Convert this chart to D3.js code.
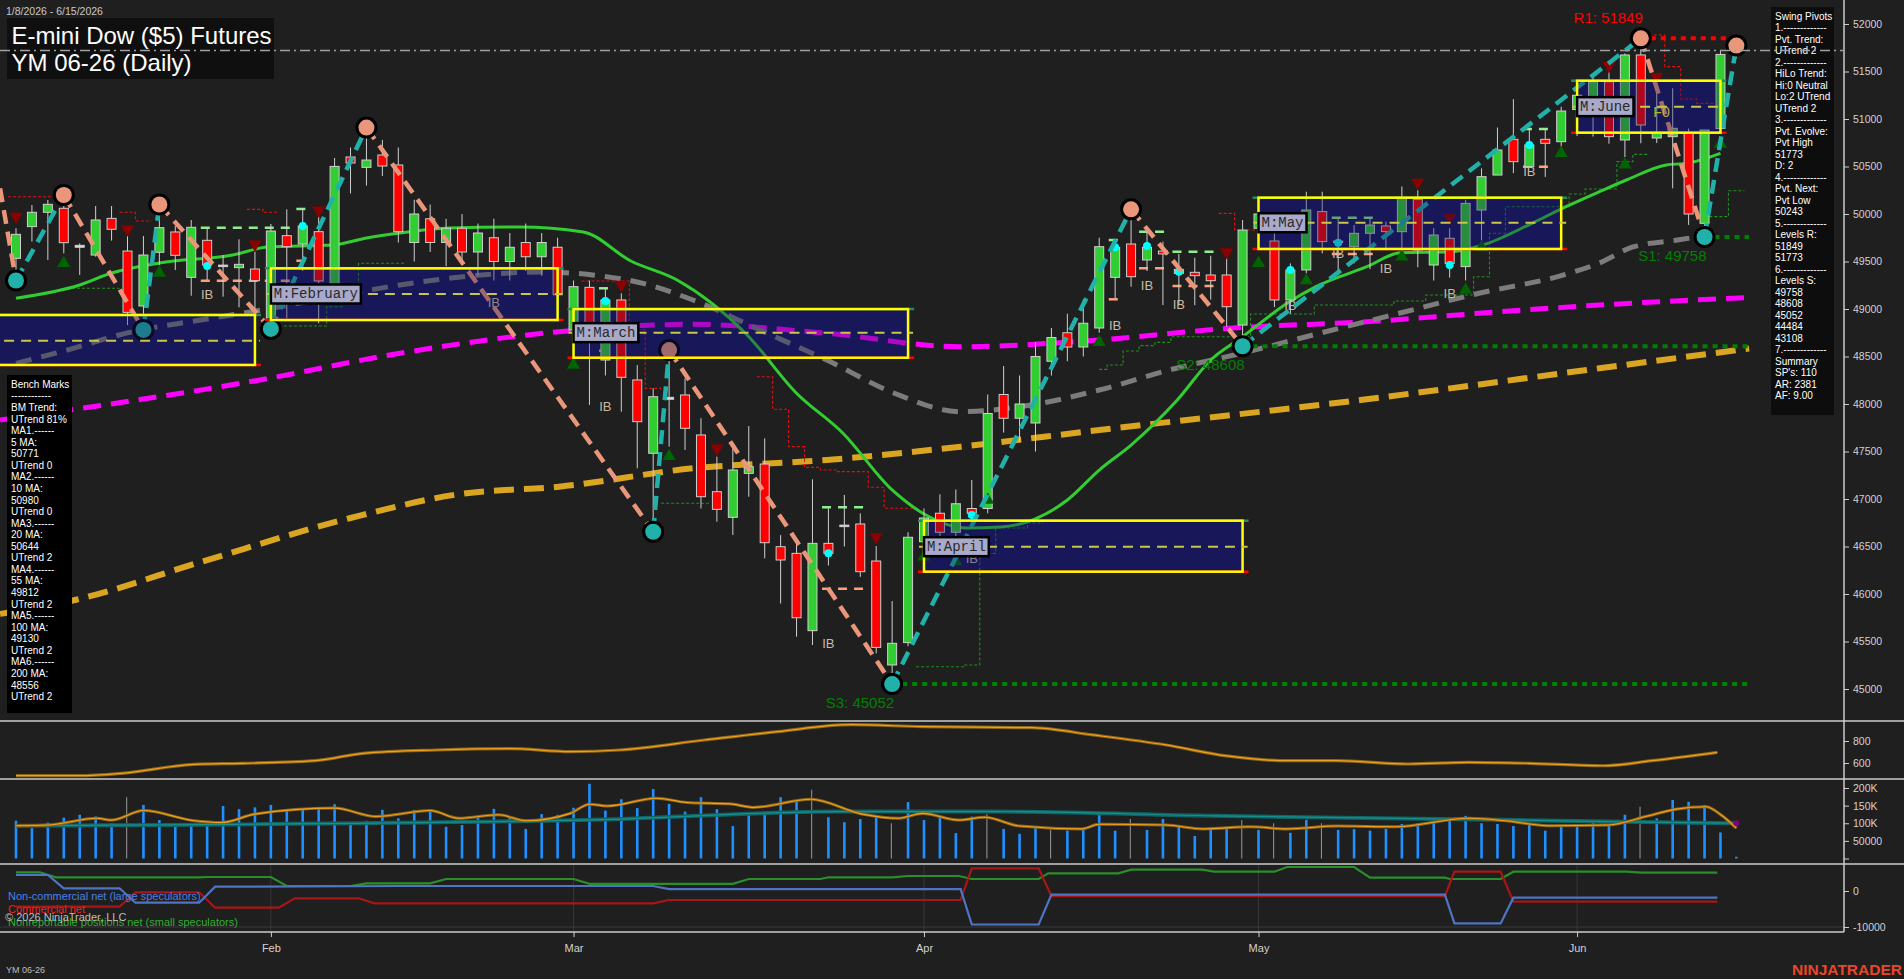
<!DOCTYPE html>
<html><head><meta charset="utf-8"><title>YM 06-26 Daily</title>
<script src="https://cdn.jsdelivr.net/npm/d3@7/dist/d3.min.js"></script>
<style>
html,body{margin:0;padding:0;background:#1f1f1f;overflow:hidden;}
svg{display:block;}
</style></head><body>
<svg id="chart" width="1904" height="979"></svg>
<script>
// ================= DATA =================
const dates = [
"2026-01-08","2026-01-09","2026-01-12","2026-01-13","2026-01-14","2026-01-15","2026-01-16","2026-01-20","2026-01-21","2026-01-22",
"2026-01-23","2026-01-26","2026-01-27","2026-01-28","2026-01-29","2026-01-30","2026-02-02","2026-02-03","2026-02-04","2026-02-05",
"2026-02-06","2026-02-09","2026-02-10","2026-02-11","2026-02-12","2026-02-13","2026-02-17","2026-02-18","2026-02-19","2026-02-20",
"2026-02-23","2026-02-24","2026-02-25","2026-02-26","2026-02-27","2026-03-02","2026-03-03","2026-03-04","2026-03-05","2026-03-06",
"2026-03-09","2026-03-10","2026-03-11","2026-03-12","2026-03-13","2026-03-16","2026-03-17","2026-03-18","2026-03-19","2026-03-20",
"2026-03-23","2026-03-24","2026-03-25","2026-03-26","2026-03-27","2026-03-30","2026-03-31","2026-04-01","2026-04-02","2026-04-06",
"2026-04-07","2026-04-08","2026-04-09","2026-04-10","2026-04-13","2026-04-14","2026-04-15","2026-04-16","2026-04-17","2026-04-20",
"2026-04-21","2026-04-22","2026-04-23","2026-04-24","2026-04-27","2026-04-28","2026-04-29","2026-04-30","2026-05-01","2026-05-04",
"2026-05-05","2026-05-06","2026-05-07","2026-05-08","2026-05-11","2026-05-12","2026-05-13","2026-05-14","2026-05-15","2026-05-18",
"2026-05-19","2026-05-20","2026-05-21","2026-05-22","2026-05-26","2026-05-27","2026-05-28","2026-05-29","2026-06-01","2026-06-02",
"2026-06-03","2026-06-04","2026-06-05","2026-06-08","2026-06-09","2026-06-10","2026-06-11","2026-06-12","2026-06-15"];

const open = [49533,49867,50018,50060,49670,49568,49954,49610,49032,49597, 49811,49333,49723,49450,49435,49421,48902,49772,49684,49814,
 49249,50600,50491,50621,50516,49700,49950,49700,49850,49600, 49750,49500,49700,49550,49650,48779,49228,48463,49095,48253,
 47481,48070,48095,47674,47077,46807,47270,47368,46498,46428, 45614,46533,46710,46737,46347,45253,45488,46550,46850,46650,
 46900,46900,48100,47850,47800,48450,48750,48600,48800,49333, 49684,49516,49610,49375,49386,49358,49358,48831,49850,49716,
 49095,49411,50025,49700,49656,49797,49874,49814,50154,49463, 49744,49446,50042,50410,50786,50498,50786,50761,51100,51077,
 51393,50779,51674,50800,50814,50849,49902,50900,51680];
const high = [49850,50095,50147,50200,49691,50084,50084,49768,49768,50100, 49874,49937,49849,49568,49733,49603,49895,50049,50060,49972,
 50590,50700,50910,50780,50700,50150,50100,49950,50000,49900, 49950,49800,49900,49800,49750,49300,49300,49218,49165,48410,
 48165,48568,48270,47850,47445,47533,47768,47638,46620,46530, 47207,46902,47042,46849,46505,45926,46650,46900,47050,47100,
 47200,48100,48400,48300,48650,48800,48950,49100,49750,49726, 50049,49814,49709,49580,49540,49560,49568,49937,50100,49800,
 49480,50235,50235,49955,49884,49950,49920,50290,50250,49850, 49850,50150,50480,50910,51210,50900,50900,51130,51410,51480,
 51500,51690,51849,51326,51323,50900,50884,51720,51773];
const low = [49300,49709,49516,49586,49358,49551,49720,48830,48780,49463, 49410,49140,49305,49130,49017,48954,48790,48902,49400,48850,
 49055,50217,50300,50400,49700,49500,49600,49450,49500,49350, 49300,49300,49400,49350,48950,48700,47990,48300,47919,47323,
 46655,47551,47516,46900,46761,46621,47024,46375,45900,45550, 45463,46300,46500,46180,45375,45052,45450,46300,46400,46450,
 46700,46850,47700,47600,47500,48300,48450,48500,48750,49112, 49235,49400,49042,49040,49040,49100,48814,48608,49700,49020,
 48950,49375,49586,49375,49480,49420,49640,49600,49440,49300, 49330,49300,49690,50410,50430,50498,50390,50710,50820,50815,
 50740,50600,50745,50747,50270,49885,49758,50850,51640];
const close = [49786,50018,50102,49698,49650,49937,49839,48965,49568,49856, 49565,49860,49463,49462,49470,49298,49821,49656,49874,49295,
 50501,50537,50568,50505,49814,50000,49700,49850,49600,49800, 49500,49650,49550,49700,49150,49235,48779,49095,48281,47814,
 48077,48050,47744,47024,46891,47305,47340,46540,46358,45750, 46533,46428,46725,46235,45438,45481,46597,46800,46650,46950,
 46850,47900,47850,48000,48500,48700,48600,48850,49656,49649, 49340,49649,49580,49417,49351,49298,49024,49831,50000,49095,
 49410,50042,49709,49715,49797,49884,49814,50165,49621,49779, 49480,50112,50393,50674,50551,50727,50744,51084,51250,51393,
 50814,51674,50937,50853,50902,50000,50884,51680,51720];

const volumeK = [107,86,102,116,124,119,100,174,152,109, 95,100,95,149,140,145,152,140,143,144,
 154,100,107,138,114,138,140,90,95,121, 141,119,84,126,124,144,212,136,168,143,
 197,155,133,174,140,92,126,130,174,166, 195,117,103,112,117,100,160,109,121,72,
 119,126,84,70,86,81,79,81,130,79, 112,81,112,92,64,84,84,109,81,100,
 73,109,100,81,83,79,84,98,100,116, 117,121,100,98,92,95,79,90,95,100,
 98,124,147,114,166,161,152,74,5];
const grayVolIdx = [7,50,55,61,65,70,77,79,82,102];

const ma20 = [[0,49113],[4,49253],[6,49379],[9,49484],[13.6,49568],[15.8,49653],[19.9,49674],[22,49747],[24.1,49800],[27.2,49853],
 [31.6,49863],[35.6,49811],[38.6,49505],[41.5,49305],[45.9,48726],[49,48113],[51.9,47695],[55,47095],[56.9,46853],[59.7,46695],
 [61.8,46705],[66,46989],[68,47305],[70,47568],[72.9,48042],[75,48463],[77,48708],[79.8,49060],[81.6,49235],[84.8,49445],
 [86.9,49593],[90,49603],[92.1,49674],[95.2,49905],[97.3,50077],[99.4,50235],[101.1,50358],[103.6,50516],[104.9,50534],[107,50639]];
const ma55 = [[0,48428],[3.2,48568],[7.3,48761],[11.6,48884],[15.8,49000],[19.9,49129],[24.1,49253],[28.5,49347],[32.9,49389],[38.4,49305],
 [42.5,49095],[46.7,48779],[50.9,48463],[55.1,48116],[59.3,47919],[63.7,47989],[68,48147],[72.4,48358],[77,48537],[81.9,48747],
 [86.9,48958],[91.9,49168],[96.9,49347],[99.4,49484],[101.5,49653],[104.3,49726],[107,49800]];
const ma100 = [[-1,47832],[15.3,48253],[24.1,48534],[34.1,48761],[42.5,48839],[50.9,48744],[59.3,48603],[68,48674],[76.4,48800],
 [84.8,48866],[93.2,48972],[99.4,49042],[108.8,49121]];
const ma200 = [[-1,45790],[3.7,45937],[11.6,46337],[21,46800],[27.9,47053],[34.1,47130],[42.5,47323],[50.9,47411],[59.3,47551],
 [68,47726],[84.4,48042],[99.4,48376],[108.8,48584]];

const redSteps = [
 [[-0.5,50182],[2.5,50182]],
 [[6.5,50018],[7.5,49926],[8.5,49926]],
 [[14.5,50049],[15.5,50018],[16.5,50018]],
 [[35.5,49295],[38.5,48779],[39.5,48165],[40.5,48165]],
 [[46.5,48287],[47.5,47944],[48.5,47551],[49.5,47333],[50.5,47305],[51.5,47288],[53.5,47123],[54.5,46902],[56.6,46902]],
 [[75.5,50007],[76.5,49832],[77.9,49832]],
 [[102.5,51884],[103.5,51551],[104.5,51211],[105.5,51165],[106.6,51165]]];
const greenSteps = [
 [[3.2,49218],[6.5,49218]],
 [[16.5,48821],[19.5,49024],[20.5,49253],[21.5,49481],[24.5,49481]],
 [[40.5,46955],[43.5,46955]],
 [[56.5,45235],[59.5,45253],[60.5,46428],[61.5,46695],[63.5,46747],[64.5,46747]],
 [[68,48365],[68.5,48411],[69.5,48558],[70.5,48614],[71.5,48649],[72.5,48708],[77.5,48947],[81.5,49042],[86.5,49084],[88.5,49147],
  [91.5,49340],[92.5,49797],[93.5,50077],[97.5,50211],[98.5,50263],[100.5,50551],[101.5,50628],[102.5,50628]],
 [[106.3,49972],[107.5,50245],[108.5,50245]]];

const pivotIdx   = [-1,0,3,8,9,16,22,40,41,55,70,77,102,106,108];
const pivotPrice = [50270,49300,50200,48780,50100,48790,50910,46655,48568,45052,50049,48608,51849,49758,51773];
const pivotType  = ["H","L","H","L","H","L","H","L","H","L","H","L","H","L","H"];

const levelName  = ["R1","S1","S2","S3"];
const levelPrice = [51849,49758,48608,45052];
const levelFrom  = [102,106,77,55];
const levelTo    = [108,108.8,108.8,108.8];

const boxLabel = ["","M:February","M:March","M:April","M:May","M:June"];
const boxStart = [-1.5,16,35,57,78,98];
const boxEnd   = [15,34,56,77,97,107];
const boxHigh  = [48937,49428,48999,46772,50172,51403];
const boxLow   = [48411,48884,48487,46235,49632,50856];
const boxMid   = [48666,49158,48751,46498,49908,51130];

const ibStart = [11.6,17.6,36.6,50.6,68.6,70.5,72.6,82.6,94.6];
const ibEnd   = [17.4,18.4,37.4,53.4,69.6,72.4,75.4,85.4,96.4];
const ibHigh  = [49856,50053,49218,46913,49726,49814,49603,49961,50895];
const ibLow   = [49298,49508,48561,46056,49102,49428,49242,49579,50498];
const ibTextIdx   = [12,30,37,51,60,69,71,73,80,83,86,90,95];
const ibTextPrice = [49137,49057,47965,45463,46358,48814,49235,49035,49024,49568,49410,49147,50432];

const cyanIdx   = [12,18,37,51,60,69,71,73,80,83,90,95];
const cyanPrice = [49453,49874,49084,46428,46832,49649,49663,49393,49410,49698,49463,50726];
const downIdx   = [0,7,15,19,38,44,54,76,88,90,100,103];
const downPrice = [49972,49840,49680,50040,49253,47533,46600,49600,50330,49960,51560,51445];
const upIdx     = [3,9,35,41,57,59,61,68,78,81,87,91,92,97,101,107];
const upPrice   = [49481,49380,48411,47450,46393,46340,46989,48650,49481,49300,49550,49200,49650,50640,50520,50737];

const atr = [[0,485],[4,485],[6.6,506],[11.2,588],[14.2,597],[18.8,621],[21.8,688],[26.4,718],[31,730],[34.8,703],[37.9,718],
 [43.2,809],[47.8,885],[52.4,948],[56.9,930],[63.8,921],[67.6,855],[72.2,764],[76,664],[79.8,621],[82.9,621],[87.4,591],
 [91.2,606],[95,597],[99.6,575],[102.7,621],[106.8,697]];
const volFast = [[0,93],[2,95],[5.1,114],[6,109],[8,136],[11.2,107],[12.9,102],[15,126],[20,143],[22.6,119],[26,136],[27.8,114],
 [30.3,124],[32,107],[34.8,128],[36,154],[37.1,149],[40.2,171],[42.1,159],[44.8,155],[46.3,145],[49.9,168],[53.1,126],[55.4,114],
 [56.9,128],[59.2,109],[60.8,117],[63,92],[66.9,84],[68,97],[72.2,95],[74.5,84],[77.5,90],[79.8,84],[82.9,92],[86.6,90],[91.2,114],
 [93.5,107],[96.2,93],[100,95],[102.3,119],[104.2,140],[106.1,147],[107,125],[108,86]];
const volSlow = [[0,93],[35.6,109],[51.6,133],[61.5,133],[75.2,121],[94.3,109],[101.1,104],[108,100]];

const cotSmall = [[0,5194],[1.5,5194],[2.5,3806],[11.5,3806],[12,3889],[16,3889],[17,1389],[21,1389],[22,2139],[26,2139],[27,3333],
 [35,3333],[36,2000],[45,2000],[46,3333],[50.5,3333],[51,3806],[55,3806],[56,4167],[59.2,4167],[60,3333],[64.2,3333],[64.8,4917],
 [69.2,4917],[70,5917],[74.5,5917],[75.2,5361],[79,5361],[79.8,6667],[84,6667],[85,3694],[89.7,3694],[90,3333],[93.2,3333],
 [94,5361],[101.1,5361],[102,5083],[106.8,5083]];
const cotCommercial = [[0,-4361],[6.5,-4361],[7.5,-361],[11.5,-361],[12.5,-4639],[16.5,-4639],[17.5,-2028],[21.5,-2028],[22.5,-3417],
 [40,-3417],[41,-2500],[59.3,-2500],[60,6306],[64.2,6306],[65,-1400],[89.7,-1400],[90.3,5361],[93.2,5361],[94,-2972],[106.8,-2972]];
const cotLarge = [[0,4444],[2,4444],[3,750],[6.5,750],[7.5,-3250],[11.5,-3250],[12.5,1194],[24,1389],[40,1389],[41,500],[59.3,500],
 [60,-9300],[64.2,-9300],[65,-1000],[89.7,-1000],[90.3,-9000],[93.2,-9000],[94,-1861],[106.8,-1861]];

const priceTicks = [45000,45500,46000,46500,47000,47500,48000,48500,49000,49500,50000,50500,51000,51500,52000];
const atrTicks = [600,800];
const volTicks = [0,50,100,150,200];
const cotTicks = [-10000,0];
const benchLines = ["Bench Marks","------------","BM Trend:","UTrend 81%","MA1.------","5 MA:","50771","UTrend 0","MA2.------","10 MA:",
 "50980","UTrend 0","MA3.------","20 MA:","50644","UTrend 2","MA4.------","55 MA:","49812","UTrend 2","MA5.------","100 MA:","49130",
 "UTrend 2","MA6.------","200 MA:","48556","UTrend 2"];
const swingLines = ["Swing Pivots","1.-------------","Pvt. Trend:","UTrend 2","2.-------------","HiLo Trend:","Hi:0 Neutral",
 "Lo:2 UTrend","UTrend 2","3.-------------","Pvt. Evolve:","Pvt High","51773","D: 2","4.-------------","Pvt. Next:","Pvt Low","50243",
 "5.-------------","Levels R:","51849","51773","6.-------------","Levels S:","49758","48608","45052","44484","43108","7.-------------",
 "Summary","SP's: 110","AR: 2381","AF: 9.00"];

// ================= DRAW =================
const F = "Arial, 'Liberation Sans', sans-serif";
const svg = d3.select("#chart");
const W = 1904, H = 979, AX = 1844;
const n = dates.length;
const x  = d3.scaleLinear().domain([0,108]).range([16,1736.4]);
const y  = d3.scaleLinear().domain([45000,52000]).range([689,24]);
const yA = d3.scaleLinear().domain([600,800]).range([763,741]);
const yV = d3.scaleLinear().domain([0,200]).range([858.5,788]);
const yC = d3.scaleLinear().domain([-10000,0]).range([927,891]);

svg.append("rect").attr("width",W).attr("height",H).attr("fill","#1f1f1f");
const defs = svg.append("defs");
function clip(id,x0,y0,w,h){defs.append("clipPath").attr("id",id).append("rect").attr("x",x0).attr("y",y0).attr("width",w).attr("height",h);}
clip("cMain",0,0,AX,720); clip("cAtr",0,722,AX,56); clip("cVol",0,780,AX,83); clip("cCot",0,865,AX,66);

const gM = svg.append("g").attr("clip-path","url(#cMain)");

boxLabel.forEach((lab,i)=>{
  gM.append("rect").attr("x",x(boxStart[i])).attr("y",y(boxHigh[i]))
    .attr("width",x(boxEnd[i])-x(boxStart[i])).attr("height",y(boxLow[i])-y(boxHigh[i])).attr("fill","#18185a");
});

const maLine = d3.line().x(d=>x(d[0])).y(d=>y(d[1])).curve(d3.curveMonotoneX);
gM.append("path").datum(ma200).attr("d",maLine).attr("fill","none").attr("stroke","#daa520").attr("stroke-width",6).attr("stroke-dasharray","20,10");
gM.append("path").datum(ma100).attr("d",maLine).attr("fill","none").attr("stroke","#ff00ff").attr("stroke-width",5).attr("stroke-dasharray","18,10");
gM.append("path").datum(ma55).attr("d",maLine).attr("fill","none").attr("stroke","#7c7c7c").attr("stroke-width",5).attr("stroke-dasharray","16,10");

const stepLine = d3.line().x(d=>x(d[0])).y(d=>y(d[1])).curve(d3.curveStepAfter);
redSteps.forEach(s=>gM.append("path").datum(s).attr("d",stepLine).attr("fill","none").attr("stroke","#e01010").attr("stroke-width",1.1).attr("stroke-dasharray","3,2"));
greenSteps.forEach(s=>gM.append("path").datum(s).attr("d",stepLine).attr("fill","none").attr("stroke","#1f8f1f").attr("stroke-width",1.1).attr("stroke-dasharray","3,2"));

gM.append("path").datum(ma20).attr("d",maLine).attr("fill","none").attr("stroke","#32cd32").attr("stroke-width",3);

levelName.forEach((nm,i)=>{
  gM.append("line").attr("x1",x(levelFrom[i])).attr("x2",x(levelTo[i])).attr("y1",y(levelPrice[i])).attr("y2",y(levelPrice[i]))
    .attr("stroke", nm[0]==="R" ? "#ff0000" : "#008000").attr("stroke-width",4).attr("stroke-dasharray","5,5");
});

ibStart.forEach((s,i)=>{
  gM.append("line").attr("x1",x(s)).attr("x2",x(ibEnd[i])).attr("y1",y(ibHigh[i])).attr("y2",y(ibHigh[i]))
    .attr("stroke","#90ee90").attr("stroke-width",2.5).attr("stroke-dasharray","9,7");
  gM.append("line").attr("x1",x(s)).attr("x2",x(ibEnd[i])).attr("y1",y(ibLow[i])).attr("y2",y(ibLow[i]))
    .attr("stroke","#ffa07a").attr("stroke-width",2.5).attr("stroke-dasharray","9,7");
});

const idx = d3.range(n);
const cg = gM.append("g");
cg.selectAll("line.wick").data(idx).join("line").attr("class","wick")
  .attr("x1",i=>x(i)).attr("x2",i=>x(i)).attr("y1",i=>y(high[i])).attr("y2",i=>y(low[i]))
  .attr("stroke","#cfcfcf").attr("stroke-width",1);
cg.selectAll("rect.body").data(idx).join("rect").attr("class","body")
  .attr("x",i=>x(i)-4.5).attr("width",9)
  .attr("y",i=>y(Math.max(open[i],close[i])))
  .attr("height",i=>Math.max(1.5, Math.abs(y(open[i])-y(close[i]))))
  .attr("fill",i=> Math.abs(close[i]-open[i])<30 ? "#dcdcdc" : (close[i]>=open[i] ? "#32cd32" : "#ff0000"))
  .attr("stroke","#cfcfcf").attr("stroke-width",1);

ibTextIdx.forEach((k,i)=>{
  gM.append("text").attr("x",x(k)).attr("y",y(ibTextPrice[i])).attr("text-anchor","middle").attr("dominant-baseline","middle")
    .attr("font-family",F).attr("font-size",13).attr("fill","#c9bba5").text("IB");
});

const tri = d3.symbol().type(d3.symbolTriangle).size(75);
downIdx.forEach((k,i)=>gM.append("path").attr("d",tri).attr("transform",`translate(${x(k)},${y(downPrice[i])}) rotate(180)`).attr("fill","#8b0000"));
upIdx.forEach((k,i)=>gM.append("path").attr("d",tri).attr("transform",`translate(${x(k)},${y(upPrice[i])})`).attr("fill","#006400"));
cyanIdx.forEach((k,i)=>gM.append("circle").attr("cx",x(k)).attr("cy",y(cyanPrice[i])).attr("r",4).attr("fill","#00ffff"));

for(let i=0;i<pivotIdx.length-1;i++){
  const down = pivotType[i]==="H";
  gM.append("line").attr("x1",x(pivotIdx[i])).attr("y1",y(pivotPrice[i])).attr("x2",x(pivotIdx[i+1])).attr("y2",y(pivotPrice[i+1]))
    .attr("stroke", down ? "#e9967a" : "#20b2aa").attr("stroke-width",4.5).attr("stroke-dasharray","14,8");
}
pivotIdx.forEach((k,i)=>{
  if(k<0) return;
  gM.append("circle").attr("cx",x(k)).attr("cy",y(pivotPrice[i])).attr("r",11).attr("fill","#000");
  gM.append("circle").attr("cx",x(k)).attr("cy",y(pivotPrice[i])).attr("r",8).attr("fill", pivotType[i]==="H" ? "#e9967a" : "#20b2aa");
});

boxLabel.forEach((lab,i)=>{
  const x0=x(boxStart[i]), x1=x(boxEnd[i]), y0=y(boxHigh[i]), y1=y(boxLow[i]), ym=y(boxMid[i]);
  gM.append("rect").attr("x",x0).attr("y",y0).attr("width",x1-x0).attr("height",y1-y0).attr("fill","#18185a").attr("opacity",0.35);
  gM.append("line").attr("x1",x0-6).attr("x2",x1+6).attr("y1",y0).attr("y2",y0).attr("stroke","#2e8b57").attr("stroke-width",2.5);
  gM.append("line").attr("x1",x0-6).attr("x2",x1+6).attr("y1",y1).attr("y2",y1).attr("stroke","#ff0000").attr("stroke-width",2.5);
  gM.append("rect").attr("x",x0).attr("y",y0).attr("width",x1-x0).attr("height",y1-y0).attr("fill","none").attr("stroke","#ffff00").attr("stroke-width",2.5);
  gM.append("line").attr("x1",x0-5).attr("x2",x1+5).attr("y1",ym).attr("y2",ym).attr("stroke","#c8c846").attr("stroke-width",2).attr("stroke-dasharray","10,7");
  if(lab){
    const w = lab.length*8.4+6;
    gM.append("rect").attr("x",x0).attr("y",ym-9.5).attr("width",w).attr("height",19).attr("fill","#a9a9c9").attr("stroke","#000").attr("stroke-width",2.5);
    gM.append("text").attr("x",x0+3).attr("y",ym+4.5).attr("font-family","'Liberation Mono','DejaVu Sans Mono',monospace").attr("font-size",14)
      .attr("fill","#2a2a2a").text(lab);
  }
});
gM.append("text").attr("x",x(103.3)).attr("y",y(51063)).attr("text-anchor","middle").attr("dominant-baseline","middle")
  .attr("font-family",F).attr("font-size",14).attr("fill","#b4b432").text("F0");

levelName.forEach((nm,i)=>{
  const isR = nm[0]==="R";
  const px = x(levelFrom[i]), py = y(levelPrice[i]);
  gM.append("text").attr("x",px+2).attr("y", isR ? py-15 : py+24).attr("text-anchor","end")
    .attr("font-family",F).attr("font-size",15).attr("fill", isR ? "#ff0000" : "#008000").text(nm+": "+levelPrice[i]);
});

const gA = svg.append("g").attr("clip-path","url(#cAtr)");
const lA = d3.line().x(d=>x(d[0])).y(d=>yA(d[1])).curve(d3.curveMonotoneX);
gA.append("path").datum(atr).attr("d",lA).attr("fill","none").attr("stroke","#8d6516").attr("stroke-width",3.2);
gA.append("path").datum(atr).attr("d",lA).attr("fill","none").attr("stroke","#f0a020").attr("stroke-width",1.2);

const gV = svg.append("g").attr("clip-path","url(#cVol)");
gV.selectAll("rect.v").data(idx).join("rect").attr("class","v")
  .attr("x",i=>x(i)-1.3).attr("width",i=>grayVolIdx.includes(i)?1:2.6)
  .attr("y",i=>yV(volumeK[i])).attr("height",i=>yV(0)-yV(volumeK[i]))
  .attr("fill",i=>grayVolIdx.includes(i)?"#9a9a9a":"#1e90ff");
const lV = d3.line().x(d=>x(d[0])).y(d=>yV(d[1])).curve(d3.curveMonotoneX);
gV.append("path").datum(volSlow).attr("d",lV).attr("fill","none").attr("stroke","#0f6464").attr("stroke-width",4);
gV.append("path").datum(volSlow).attr("d",lV).attr("fill","none").attr("stroke","#1a8f8f").attr("stroke-width",1.2);
gV.append("path").datum(volFast).attr("d",lV).attr("fill","none").attr("stroke","#8d6516").attr("stroke-width",3);
gV.append("path").datum(volFast).attr("d",lV).attr("fill","none").attr("stroke","#f0a020").attr("stroke-width",1.1);
gV.append("circle").attr("cx",x(108)).attr("cy",yV(100)).attr("r",3).attr("fill","#800080");

const gC = svg.append("g").attr("clip-path","url(#cCot)");
dates.forEach((d,i)=>{ if(i>0 && d.slice(5,7)!==dates[i-1].slice(5,7))
  gC.append("line").attr("x1",x(i)).attr("x2",x(i)).attr("y1",864).attr("y2",932).attr("stroke","#363636").attr("stroke-width",1); });
gC.append("line").attr("x1",0).attr("x2",AX).attr("y1",yC(-10000)).attr("y2",yC(-10000)).attr("stroke","#3a3a3a").attr("stroke-width",1);
const lC = d3.line().x(d=>x(d[0])).y(d=>yC(d[1]));
gC.append("path").datum(cotSmall).attr("d",lC).attr("fill","none").attr("stroke","#2a8f2a").attr("stroke-width",2.2);
gC.append("path").datum(cotCommercial).attr("d",lC).attr("fill","none").attr("stroke","#a81616").attr("stroke-width",2.2);
gC.append("path").datum(cotLarge).attr("d",lC).attr("fill","none").attr("stroke","#4f74c4").attr("stroke-width",2.2);

svg.append("text").attr("x",8).attr("y",899.5).attr("font-family",F).attr("font-size",11).attr("fill","#4a80e6").text("Non-commercial net (large speculators)");
svg.append("text").attr("x",8).attr("y",912.5).attr("font-family",F).attr("font-size",11).attr("fill","#ff1a1a").text("Commercial net");
svg.append("text").attr("x",8).attr("y",925.5).attr("font-family",F).attr("font-size",11).attr("fill","#30b030").text("Nonreportable positions net (small speculators)");
svg.append("text").attr("x",5).attr("y",921).attr("font-family",F).attr("font-size",11).attr("fill","#bdbdbd").text("© 2026 NinjaTrader, LLC");

[[721,W],[779,W],[864,W],[932,AX]].forEach(([yy,xe])=>svg.append("line").attr("x1",0).attr("x2",xe).attr("y1",yy).attr("y2",yy).attr("stroke","#cdcdcd").attr("stroke-width",1.5));
svg.append("line").attr("x1",AX).attr("x2",AX).attr("y1",0).attr("y2",932).attr("stroke","#cdcdcd").attr("stroke-width",1.5);

function styleAxis(g){
  g.select(".domain").remove();
  g.selectAll(".tick line").attr("stroke","#cdcdcd");
  g.selectAll(".tick text").attr("fill","#d2d2d2").attr("font-size","10.5px").attr("font-family",F);
}
svg.append("g").attr("transform",`translate(${AX},0)`).call(d3.axisRight(y).tickValues(priceTicks).tickSize(5).tickPadding(4).tickFormat(d=>String(d))).call(styleAxis);
svg.append("g").attr("transform",`translate(${AX},0)`).call(d3.axisRight(yA).tickValues(atrTicks).tickSize(5).tickPadding(4).tickFormat(d=>String(d))).call(styleAxis);
svg.append("g").attr("transform",`translate(${AX},0)`).call(d3.axisRight(yV).tickValues(volTicks).tickSize(5).tickPadding(4)
  .tickFormat(d=> d===0 ? "" : (d===50 ? "50000" : d+"K"))).call(styleAxis);
svg.append("g").attr("transform",`translate(${AX},0)`).call(d3.axisRight(yC).tickValues(cotTicks).tickSize(5).tickPadding(4).tickFormat(d=>String(d))).call(styleAxis);

const parse = d3.timeParse("%Y-%m-%d"), fmtM = d3.timeFormat("%b");
const monthIdx = idx.filter(i=>i>0 && dates[i].slice(5,7)!==dates[i-1].slice(5,7));
svg.append("g").attr("transform","translate(0,932)").call(d3.axisBottom(x).tickValues(monthIdx).tickSize(5).tickPadding(7)
  .tickFormat(i=>fmtM(parse(dates[i])))).call(g=>{styleAxis(g); g.selectAll(".tick text").attr("font-size","11px");});

svg.append("rect").attr("x",7).attr("y",375).attr("width",65).attr("height",338).attr("fill","#000");
benchLines.forEach((t,i)=>svg.append("text").attr("x",11).attr("y",387.8+i*11.57).attr("font-family",F).attr("font-size",10).attr("fill","#ffffff").text(t));

svg.append("rect").attr("x",1771).attr("y",7).attr("width",63).attr("height",408).attr("fill","#0d0d0d");
swingLines.forEach((t,i)=>svg.append("text").attr("x",1775).attr("y",19.5+i*11.5).attr("font-family",F).attr("font-size",10).attr("fill","#ffffff").text(t));

svg.append("text").attr("x",6).attr("y",15).attr("font-family",F).attr("font-size",10.5).attr("fill","#c8c8c8").text("1/8/2026 - 6/15/2026");
svg.append("rect").attr("x",7).attr("y",18).attr("width",267).attr("height",61).attr("fill","#0f0f0f");
svg.append("text").attr("x",11.5).attr("y",43.5).attr("font-family",F).attr("font-size",24).attr("fill","#ffffff").text("E-mini Dow ($5) Futures");
svg.append("text").attr("x",11.5).attr("y",71).attr("font-family",F).attr("font-size",24).attr("fill","#ffffff").text("YM 06-26 (Daily)");

svg.append("line").attr("x1",0).attr("x2",AX).attr("y1",y(close[n-1])).attr("y2",y(close[n-1]))
  .attr("stroke","#a0a0a0").attr("stroke-width",1.5).attr("stroke-dasharray","10,4,2,4");

svg.append("text").attr("x",6).attr("y",973).attr("font-family",F).attr("font-size",9).attr("fill","#bdbdbd").text("YM 06-26");
svg.append("text").attr("x",1902).attr("y",975).attr("text-anchor","end").attr("font-family",F).attr("font-size",15.5).attr("font-weight","bold")
  .attr("fill","#e8472a").text("NINJATRADER");
</script>
</body></html>
